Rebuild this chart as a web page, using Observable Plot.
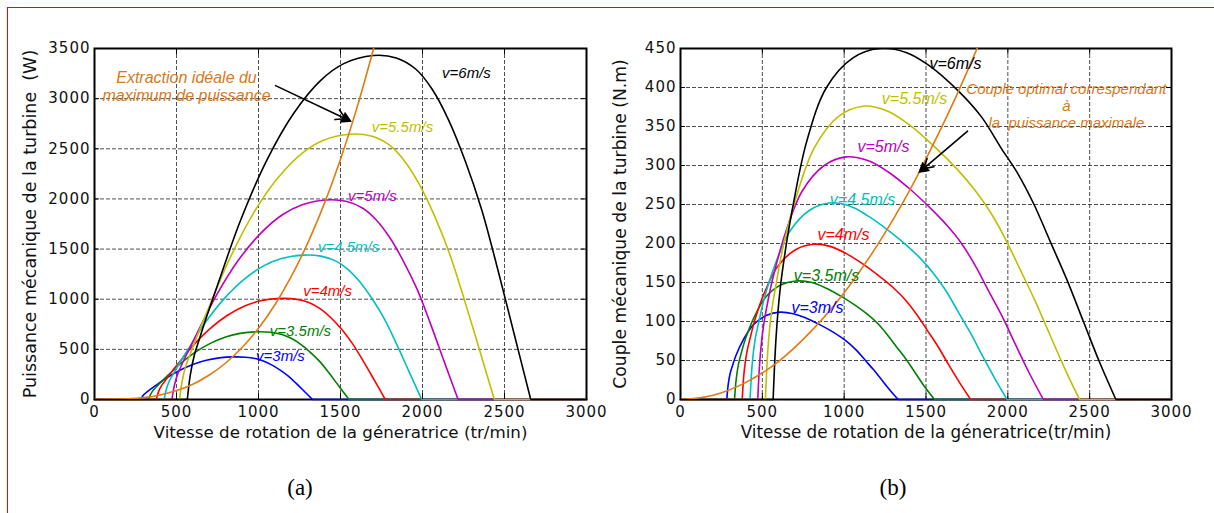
<!DOCTYPE html>
<html><head><meta charset="utf-8">
<script src="https://cdn.jsdelivr.net/npm/d3@7"></script>
<script src="https://cdn.jsdelivr.net/npm/@observablehq/plot@0.6"></script>
<style>
html,body{margin:0;padding:0;background:#fff;overflow:hidden}
#wrap{position:relative;width:1214px;height:513px}
#border{position:absolute;left:7px;top:7px;width:1207px;height:506px;border-top:1.5px solid #f00;border-left:1.5px solid #f00;box-sizing:border-box;z-index:5;pointer-events:none}
#ca,#cb{position:absolute;top:0}
#ca{left:0}#cb{left:605px}
.cap{position:absolute;font-family:"Liberation Serif",serif;font-size:23px;top:475px;width:60px;text-align:center}
svg text{white-space:pre}
g[aria-label="x-axis tick label"] text, g[aria-label="y-axis tick label"] text{letter-spacing:1px}
</style></head>
<body>
<div id="wrap">
<div id="ca"></div><div id="cb"></div>
<div class="cap" style="left:270px">(a)</div>
<div class="cap" style="left:863px">(b)</div>
<div id="border"></div>
</div>
<script>
// ---------- ticks ----------
const xTicks = [0, 500, 1000, 1500, 2000, 2500, 3000];
const yTicksA = [0, 500, 1000, 1500, 2000, 2500, 3000, 3500];
const yTicksB = [0, 50, 100, 150, 200, 250, 300, 350, 400, 450];

// ---------- series ----------
const speedLabels = ["v=3m/s", "v=3.5m/s", "v=4m/s", "v=4.5m/s", "v=5m/s", "v=5.5m/s", "v=6m/s"];
const speedColors = ["#0000ff", "#008000", "#ff0000", "#00bfbf", "#bf00bf", "#bfbf00", "#000000"];
const optColor = "#e07b10";

// generator speed (tr/min) sampled along each wind-speed curve
const rpm3  = [283, 292, 304, 320, 340, 385, 446, 527, 608, 689, 760, 850, 920, 980, 1030, 1080, 1130, 1180, 1230, 1280, 1330];
const rpm35 = [330, 341, 355, 373, 397, 449, 520, 615, 709, 804, 887, 992, 1073, 1143, 1202, 1260, 1318, 1377, 1435, 1493, 1552];
const rpm4  = [377, 389, 405, 427, 453, 513, 595, 703, 811, 919, 1013, 1133, 1227, 1307, 1373, 1440, 1507, 1573, 1640, 1707, 1773];
const rpm45 = [425, 438, 456, 480, 510, 578, 669, 791, 912, 1034, 1140, 1275, 1380, 1470, 1545, 1620, 1695, 1770, 1845, 1920, 1995];
const rpm5  = [472, 487, 507, 533, 567, 642, 743, 878, 1013, 1148, 1267, 1417, 1533, 1633, 1717, 1800, 1883, 1967, 2050, 2133, 2217];
const rpm55 = [519, 535, 557, 587, 623, 706, 818, 966, 1115, 1263, 1393, 1558, 1687, 1797, 1888, 1980, 2072, 2163, 2255, 2347, 2438];
const rpm6  = [566, 584, 608, 640, 680, 770, 892, 1054, 1216, 1378, 1520, 1700, 1840, 1960, 2060, 2160, 2260, 2360, 2460, 2560, 2660];

// (a) mechanical power (W)
const powA3  = [0, 30, 54, 75, 100, 153, 222, 297, 354, 394, 415, 425, 422, 408, 383, 345, 295, 235, 160, 80, 0];
const powA35 = [0, 48, 86, 119, 159, 243, 353, 472, 562, 626, 659, 675, 670, 648, 608, 548, 468, 373, 254, 127, 0];
const powA4  = [0, 71, 128, 178, 237, 363, 527, 704, 840, 935, 984, 1008, 1001, 968, 908, 818, 700, 557, 380, 190, 0];
const powA45 = [0, 102, 183, 254, 339, 518, 752, 1006, 1199, 1335, 1406, 1440, 1430, 1382, 1298, 1169, 999, 796, 542, 271, 0];
const powA5  = [0, 140, 253, 351, 468, 716, 1039, 1391, 1657, 1845, 1943, 1990, 1976, 1910, 1793, 1615, 1381, 1100, 749, 375, 0];
const powA55 = [0, 187, 336, 467, 622, 952, 1382, 1849, 2203, 2452, 2583, 2645, 2627, 2539, 2384, 2147, 1836, 1463, 996, 498, 0];
const powA6  = [0, 242, 436, 605, 807, 1235, 1792, 2397, 2857, 3180, 3349, 3430, 3406, 3293, 3091, 2784, 2381, 1897, 1291, 646, 0];
const rpmOptA = [0, 200, 300, 400, 500, 600, 700, 800, 900, 1000, 1100, 1200, 1300, 1400, 1500, 1600, 1700, 1750];
const powOptA = [0, 6, 19, 45, 89, 153, 244, 364, 518, 710, 945, 1227, 1560, 1948, 2396, 2908, 3488, 3800];

// (b) mechanical torque (N.m)
const torB3  = [0, 20, 34, 45, 57, 77, 96, 108, 112, 110, 105, 96, 88, 80, 72, 62, 50, 38, 25, 12, 0];
const torB35 = [0, 27, 46, 61, 78, 105, 131, 147, 152, 150, 143, 131, 120, 109, 98, 84, 68, 52, 34, 16, 0];
const torB4  = [0, 36, 60, 80, 101, 137, 171, 192, 199, 196, 187, 171, 156, 142, 128, 110, 89, 68, 44, 21, 0];
const torB45 = [0, 45, 77, 101, 128, 173, 216, 243, 252, 248, 236, 216, 198, 180, 162, 140, 113, 86, 56, 27, 0];
const torB5  = [0, 56, 94, 125, 158, 214, 267, 300, 311, 306, 292, 267, 244, 222, 200, 172, 139, 106, 69, 33, 0];
const torB55 = [0, 67, 114, 151, 192, 259, 323, 363, 376, 370, 353, 323, 296, 269, 242, 208, 168, 128, 84, 40, 0];
const torB6  = [0, 80, 140, 190, 240, 330, 400, 438, 450, 445, 428, 395, 362, 322, 290, 250, 202, 154, 101, 48, 0];
const rpmOptB = [0, 200, 400, 600, 800, 1000, 1200, 1400, 1600, 1700, 1800, 1850];
const torOptB = [0, 5.5, 22, 49, 88, 137, 197, 268, 351, 396, 444, 469];

// label anchors (data units)
const labelRpmA = [1134, 1256, 1421, 1549, 1695, 1878, 2268];
const labelPowA = [430, 680, 1080, 1520, 2030, 2720, 3250];
const labelRpmB = [837, 892, 996, 1112, 1240, 1430, 1680];
const labelTorB = [117, 158, 211, 256, 324, 385, 430];

const annotA = "Extraction idéale du\nmaximum de puissance";
const annotARpm = 561, annotAPow = 3125;
const arrowA = {x1: 1104, y1: 3130, x2: 1531, y2: 2800};
const annotB = "Couple optimal correspendant\nà\nla  puissance maximale";
const annotBRpm = 2358, annotBTor = 377;
const arrowB = {x1: 1754, y1: 344, x2: 1485, y2: 296};

const xTitleA = "Vitesse de rotation de la géneratrice (tr/min)";
const xTitleB = "Vitesse de rotation de la géneratrice(tr/min)";
const yTitleA = "Puissance mécanique de la turbine  (W)";
const yTitleB = "Couple mécanique de la turbine (N.m)";

function hump(rpm, val) { return rpm.map((v, i) => ({x: v, y: val[i]})); }
function zeros(rpm) {
  return [{x: 0, y: 0, g: 0}, {x: rpm[0], y: 0, g: 0}, {x: rpm[rpm.length - 1], y: 0, g: 1}, {x: 3000, y: 0, g: 1}];
}

function chart(o) {
  const yMax = o.yTicks[o.yTicks.length - 1];
  const fmt = d => `${d}`;
  const marks = [
    Plot.gridX(xTicks.slice(1, -1), {stroke: "#222", strokeOpacity: 0.8, strokeDasharray: "4,2", strokeWidth: 1}),
    Plot.gridY(o.yTicks.slice(1, -1), {stroke: "#222", strokeOpacity: 0.8, strokeDasharray: "4,2", strokeWidth: 1}),
    Plot.frame({stroke: "#000", strokeWidth: 2})
  ];
  o.curves.forEach((c, i) => {
    marks.push(Plot.line(zeros(c[0]), {x: "x", y: "y", z: "g", stroke: speedColors[i], strokeWidth: 1.6}));
    marks.push(Plot.line(hump(c[0], c[1]), {x: "x", y: "y", stroke: speedColors[i], strokeWidth: 1.6, curve: "catmull-rom", clip: true}));
  });
  marks.push(Plot.line(hump(o.opt[0], o.opt[1]), {x: "x", y: "y", stroke: optColor, strokeWidth: 1.6, curve: "catmull-rom", clip: true}));
  // inward ticks
  marks.push(Plot.ruleX(xTicks, {x: d => d, y1: 0, y2: yMax * 0.017, stroke: "#000"}));
  marks.push(Plot.ruleX(xTicks, {x: d => d, y1: yMax * 0.983, y2: yMax, stroke: "#000"}));
  marks.push(Plot.ruleY(o.yTicks, {y: d => d, x1: 0, x2: 30, stroke: "#000"}));
  marks.push(Plot.ruleY(o.yTicks, {y: d => d, x1: 2970, x2: 3000, stroke: "#000"}));
  marks.push(Plot.axisX(xTicks, {tickSize: 0, tickPadding: 7, tickFormat: fmt, fontSize: 15, fontFamily: "DejaVu Sans", fill: "#111", label: null}));
  marks.push(Plot.axisY(o.yTicks, {tickSize: 0, tickPadding: 4, tickFormat: fmt, fontSize: 15, fontFamily: "DejaVu Sans", fill: "#111", label: null}));
  marks.push(Plot.text([o.xTitle], {text: d => d, frameAnchor: "bottom", dy: 38, fontSize: o.xTitleSize, fontFamily: "DejaVu Sans", fill: "#111"}));
  marks.push(Plot.text([o.yTitle], {text: d => d, frameAnchor: "left", rotate: -90, dx: o.yTitleDx, fontSize: o.yTitleSize, fontFamily: "DejaVu Sans", fill: "#111", textAnchor: "middle"}));
  // curve labels
  const lab = speedLabels.map((s, i) => ({s, x: o.labelX[i], y: o.labelY[i], c: speedColors[i]}));
  marks.push(Plot.text(lab, {x: "x", y: "y", text: "s", fill: d => d.c, fontSize: o.labelSize, fontStyle: "italic", fontFamily: "Liberation Sans"}));
  marks.push(Plot.text([o.annot], {text: d => d, x: () => o.annotX, y: () => o.annotY, fill: "#d8791a", fontSize: o.annotSize, fontStyle: "italic", fontFamily: "Liberation Sans", lineHeight: 1.15}));
  marks.push(Plot.arrow([o.arrow], {x1: "x1", y1: "y1", x2: "x2", y2: "y2", stroke: "#000", strokeWidth: 1.6, headLength: 10, bend: 0}));
  marks.push(Plot.dot([o.arrow], {x: "x2", y: "y2", symbol: "triangle", r: 4.5, fill: "#000", stroke: "none", rotate: o.headRotate}));
  return Plot.plot({
    width: o.width, height: 470,
    marginLeft: o.ml, marginRight: o.mr, marginTop: 48, marginBottom: 71,
    x: {domain: [0, 3000], axis: null},
    y: {domain: [0, yMax], axis: null},
    color: {type: "identity"},
    style: {background: "transparent", overflow: "visible"},
    marks
  });
}

document.getElementById("ca").appendChild(chart({
  width: 605, ml: 94, mr: 19, yTicks: yTicksA,
  curves: [[rpm3, powA3], [rpm35, powA35], [rpm4, powA4], [rpm45, powA45], [rpm5, powA5], [rpm55, powA55], [rpm6, powA6]],
  opt: [rpmOptA, powOptA],
  labelX: labelRpmA, labelY: labelPowA, labelSize: 15,
  annot: annotA, annotX: annotARpm, annotY: annotAPow, annotSize: 16,
  arrow: arrowA, headRotate: 115,
  xTitle: xTitleA, yTitle: yTitleA, yTitleDx: -64, xTitleSize: 16.7, yTitleSize: 17.5
}));
document.getElementById("cb").appendChild(chart({
  width: 609, ml: 75, mr: 43, yTicks: yTicksB,
  curves: [[rpm3, torB3], [rpm35, torB35], [rpm4, torB4], [rpm45, torB45], [rpm5, torB5], [rpm55, torB55], [rpm6, torB6]],
  opt: [rpmOptB, torOptB],
  labelX: labelRpmB, labelY: labelTorB, labelSize: 16,
  annot: annotB, annotX: annotBRpm, annotY: annotBTor, annotSize: 15,
  arrow: arrowB, headRotate: 230,
  xTitle: xTitleB, yTitle: yTitleB, yTitleDx: -60, xTitleSize: 16.8, yTitleSize: 17.2
}));
</script>
</body></html>
